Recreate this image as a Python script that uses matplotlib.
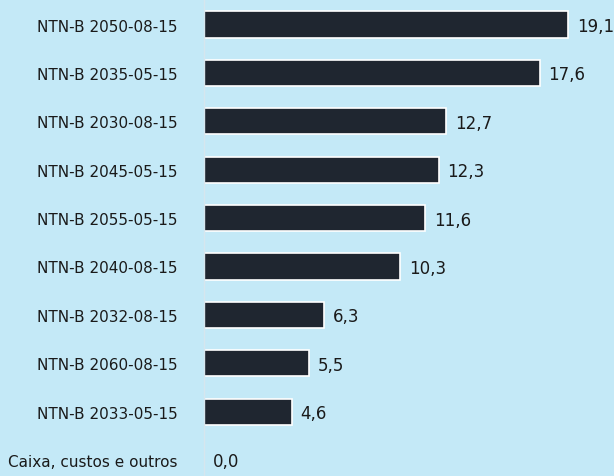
import matplotlib
matplotlib.use("Agg")
import matplotlib.pyplot as plt

# data
labels = ["NTN-B 2050-08-15", "NTN-B 2035-05-15", "NTN-B 2030-08-15",
          "NTN-B 2045-05-15", "NTN-B 2055-05-15", "NTN-B 2040-08-15",
          "NTN-B 2032-08-15", "NTN-B 2060-08-15", "NTN-B 2033-05-15",
          "Caixa, custos e outros"]
values = [19.1, 17.6, 12.7, 12.3, 11.6, 10.3, 6.3, 5.5, 4.6, 0.0]

bg = "#c4e9f7"
bar_color = "#1f2630"

fig = plt.figure(figsize=(6.14, 4.77), dpi=100, facecolor=bg)
ax = fig.add_axes([204 / 614, 0, 1 - 204 / 614, 1])
ax.set_facecolor(bg)

pos = list(range(len(values)))
ax.barh(pos, values, height=0.54, color=bar_color, edgecolor="white", linewidth=1.2)

for p, v in zip(pos, values):
    ax.text(v + 0.45, p + 0.03, f"{v:.1f}".replace(".", ","), va="center", ha="left",
            fontsize=12, color="#1a1a1a")

ax.set_xlim(0, 21.5)
ax.set_ylim(9.33, -0.527)
ax.set_yticks(pos)
ax.set_yticklabels(labels, fontsize=11, color="#1a1a1a")
ax.tick_params(axis="y", length=0, pad=19)
ax.set_xticks([])
for s in ["top", "right", "bottom"]:
    ax.spines[s].set_visible(False)
ax.spines["left"].set_color("#d6e6ee")
ax.spines["left"].set_linewidth(1.0)

fig.savefig("out.png", dpi=100, facecolor=bg)
